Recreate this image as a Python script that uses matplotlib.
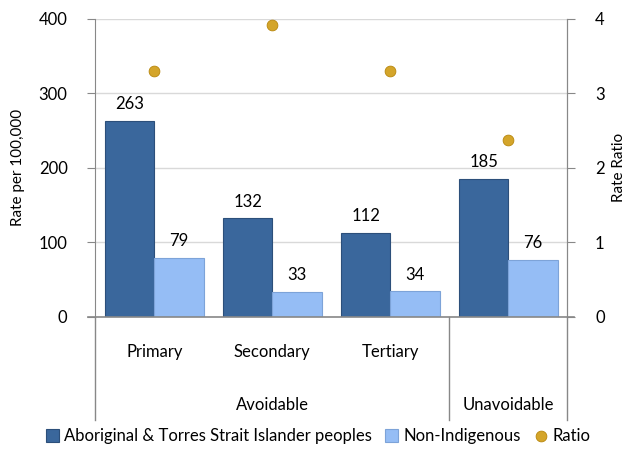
import matplotlib.pyplot as plt
import numpy as np

plt.rcParams['font.family'] = ['Lato', 'DejaVu Sans']

categories = ['Primary', 'Secondary', 'Tertiary', '']
groups = ['Avoidable', 'Unavoidable']
indigenous = [263, 132, 112, 185]
non_indigenous = [79, 33, 34, 76]
ratio = [3.3, 3.92, 3.3, 2.37]

dark = '#3a679c'
light = '#95bdf5'
gold = '#d4a52a'

fig, ax = plt.subplots(figsize=(6.36, 4.5), dpi=100)
fig.subplots_adjust(left=0.15, right=0.892, top=0.958, bottom=0.296)

x = np.arange(len(categories))
w = 0.42
ax.bar(x - w / 2, indigenous, w, color=dark, edgecolor='#2c4f7a', linewidth=0.8, zorder=3,
       label='Aboriginal & Torres Strait Islander peoples')
ax.bar(x + w / 2, non_indigenous, w, color=light, edgecolor='#7da3d8', linewidth=0.8, zorder=3,
       label='Non-Indigenous')

for i in range(len(x)):
    ax.text(x[i] - w / 2, indigenous[i] + 12, str(indigenous[i]), ha='center', va='bottom', fontsize=12)
    ax.text(x[i] + w / 2, non_indigenous[i] + 12, str(non_indigenous[i]), ha='center', va='bottom', fontsize=12)

ax.set_xlim(-0.5, 3.5)
ax.set_ylim(0, 400)
ax.set_yticks([0, 100, 200, 300, 400])
ax.set_ylabel('Rate per 100,000', fontsize=11, labelpad=10)
ax.yaxis.grid(True, color='#d9d9d9', linewidth=1, zorder=0)
ax.set_xticks([])
for s in ['top', 'bottom']:
    ax.spines[s].set_visible(False)
ax.spines['left'].set_color('#888888')
ax.spines['right'].set_color('#888888')
ax.tick_params(axis='y', length=6, color='#888888', labelsize=12, pad=14)

ax2 = ax.twinx()
ax2.scatter(x, ratio, s=60, color=gold, edgecolor='#b8860b', linewidth=0.6, zorder=4, label='Ratio')
ax2.set_ylim(0, 4)
ax2.set_yticks([0, 1, 2, 3, 4])
ax2.set_ylabel('Rate Ratio', fontsize=11, labelpad=5)
ax2.tick_params(axis='y', length=6, color='#888888', labelsize=12, pad=14)
for s in ['top', 'bottom', 'left']:
    ax2.spines[s].set_visible(False)
ax2.spines['right'].set_color('#888888')

# grouped category axis
tr = ax.get_xaxis_transform()
ax.plot([-0.56, 3.56], [0, 0], color='#888888', linewidth=1.2, transform=tr, clip_on=False, zorder=5)
for xs in [-0.5, 2.5, 3.5]:
    ax.plot([xs, xs], [0, -0.345], color='#888888', linewidth=1, transform=tr, clip_on=False)
for i, c in enumerate(categories):
    ax.text(x[i], -0.118, c, ha='center', va='center', fontsize=12, transform=tr)
ax.text(1, -0.295, groups[0], ha='center', va='center', fontsize=12, transform=tr)
ax.text(3, -0.295, groups[1], ha='center', va='center', fontsize=12, transform=tr)

h1, l1 = ax.get_legend_handles_labels()
h2, l2 = ax2.get_legend_handles_labels()
fig.legend(h1 + h2, l1 + l2, loc='lower center', bbox_to_anchor=(0.5, -0.02), ncol=3, frameon=False,
           fontsize=12, handlelength=0.8, handleheight=0.8, handletextpad=0.3, columnspacing=0.8)

fig.savefig('out.png', dpi=100)
